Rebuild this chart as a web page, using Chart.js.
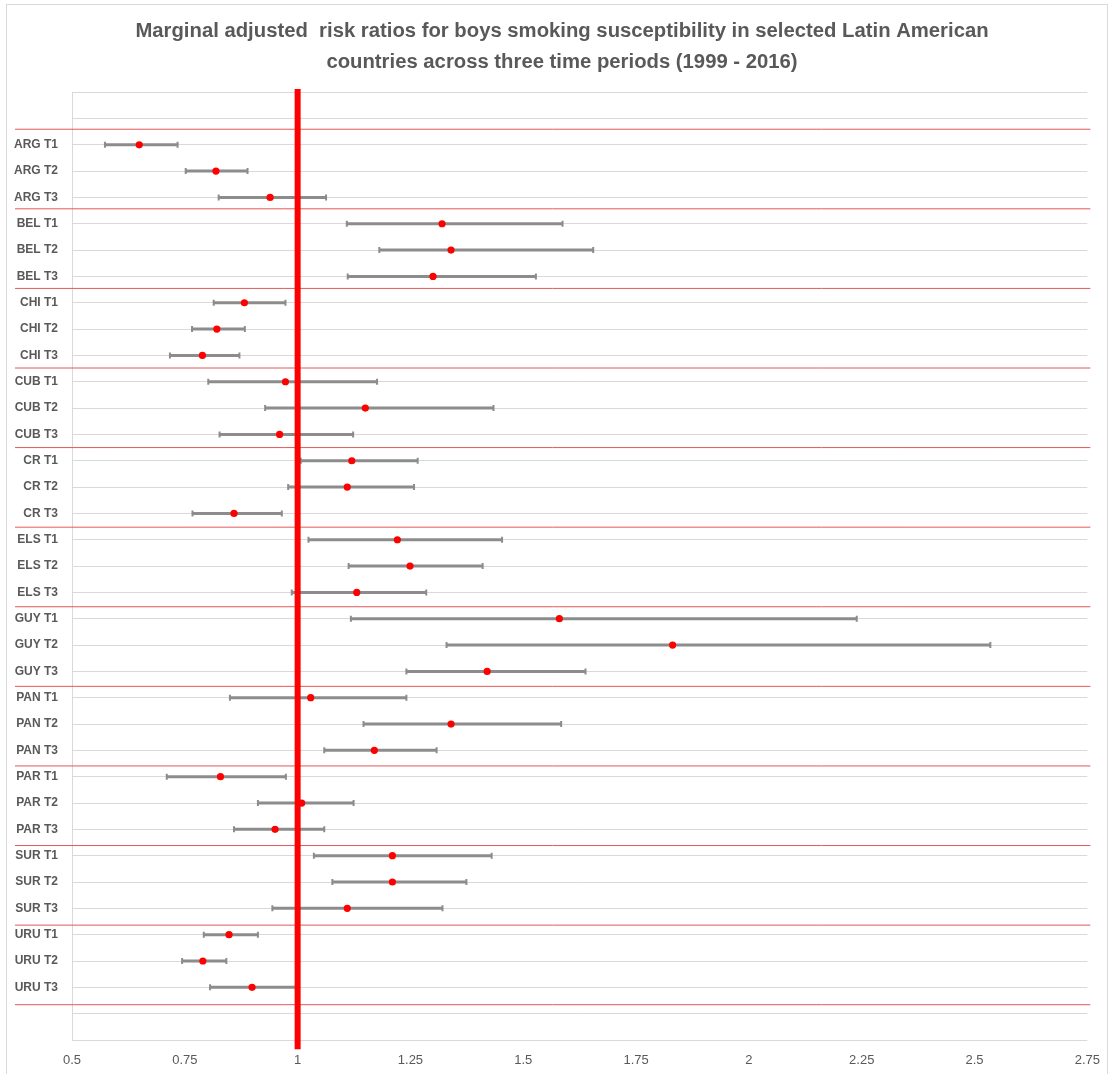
<!DOCTYPE html>
<html><head><meta charset="utf-8">
<script src="https://cdn.jsdelivr.net/npm/chart.js@4.4.1/dist/chart.umd.min.js"></script>
<style>
html,body{margin:0;padding:0;background:#fff;}
#wrap{position:relative;width:1113px;height:1074px;overflow:hidden;}
#frame{position:absolute;left:6px;top:4px;width:1102px;height:1100px;border:1px solid #d9d9d9;box-sizing:border-box;pointer-events:none;}
canvas{position:absolute;left:0;top:0;}
</style></head><body>
<div id="wrap"><canvas id="c" width="1113" height="1074"></canvas><div id="frame"></div></div>
<script>
// ---------- data ----------
const rowLabels = ["ARG T1","ARG T2","ARG T3","BEL T1","BEL T2","BEL T3","CHI T1","CHI T2","CHI T3",
  "CUB T1","CUB T2","CUB T3","CR T1","CR T2","CR T3","ELS T1","ELS T2","ELS T3",
  "GUY T1","GUY T2","GUY T3","PAN T1","PAN T2","PAN T3","PAR T1","PAR T2","PAR T3",
  "SUR T1","SUR T2","SUR T3","URU T1","URU T2","URU T3"];
const estimates = [0.649,0.819,0.939, 1.320,1.340,1.300, 0.882,0.821,0.789,
  0.973,1.150,0.960, 1.120,1.110,0.859, 1.221,1.249,1.131,
  1.580,1.831,1.420, 1.029,1.340,1.170, 0.829,1.009,0.950,
  1.210,1.210,1.110, 0.848,0.790,0.899];
const lowerCI = [0.573,0.752,0.825, 1.109,1.181,1.111, 0.814,0.766,0.717,
  0.802,0.928,0.827, 1.007,0.979,0.767, 1.024,1.113,0.987,
  1.118,1.330,1.241, 0.850,1.146,1.059, 0.710,0.912,0.859,
  1.036,1.077,0.944, 0.792,0.744,0.806];
const upperCI = [0.734,0.889,1.063, 1.587,1.655,1.528, 0.973,0.883,0.871,
  1.176,1.434,1.123, 1.266,1.258,0.965, 1.453,1.410,1.285,
  2.239,2.535,1.638, 1.241,1.584,1.308, 0.974,1.124,1.059,
  1.430,1.374,1.321, 0.912,0.842,0.996];
const xTickValues = [0.5,0.75,1,1.25,1.5,1.75,2,2.25,2.5,2.75];
const groupBoundaries = [0.5,3.5,6.5,9.5,12.5,15.5,18.5,21.5,24.5,27.5,30.5,33.5];
const referenceValue = 1;
const firstRow = 2;   // two empty rows above the first category
const lastRow = 36;
const titleLines = ["Marginal adjusted  risk ratios for boys smoking susceptibility in selected Latin American",
  "countries across three time periods (1999 - 2016)"];

// ---------- chart ----------
const FONT = '"Liberation Sans", Arial, sans-serif';
const GREY_TXT = '#595959';
const ERR_COL = '#8c8c8c';

const datasets = [];
rowLabels.forEach((lab, i) => {
  datasets.push({
    type: 'scatter', showLine: true, label: lab + ' CI',
    data: [{x: lowerCI[i], y: i + firstRow}, {x: upperCI[i], y: i + firstRow}],
    borderColor: ERR_COL, borderWidth: 3, borderCapStyle: 'butt',
    pointStyle: 'line', pointRotation: 90, pointRadius: 3, pointBorderWidth: 2,
    pointBorderColor: ERR_COL, pointBackgroundColor: ERR_COL, pointHoverRadius: 3,
    order: 3
  });
});
datasets.push({
  type: 'scatter', showLine: true, label: 'reference',
  data: [{x: referenceValue, y: -0.12}, {x: referenceValue, y: lastRow + 0.35}],
  borderColor: '#ff0000', borderWidth: 6, borderCapStyle: 'butt', pointRadius: 0, clip: false, order: 2
});
datasets.push({
  type: 'scatter', label: 'estimate',
  data: estimates.map((v, i) => ({x: v, y: i + firstRow})),
  pointRadius: 3.6, pointBackgroundColor: '#ff0000', pointBorderWidth: 0, pointBorderColor: '#ff0000',
  order: 1
});

const separatorPlugin = {
  id: 'separators',
  afterLayout(chart) {
    // centre the title over the same point as the original
    if (chart.titleBlock) { chart.titleBlock.left += 12; chart.titleBlock.right += 12; }
  },
  beforeDatasetsDraw(chart) {
    const {ctx, chartArea} = chart;
    const s = chart.scales.y2;
    ctx.save();
    ctx.strokeStyle = 'rgb(226,88,88)';
    ctx.lineWidth = 1;
    groupBoundaries.forEach(b => {
      const py = s.getPixelForValue(b);
      ctx.beginPath();
      ctx.moveTo(chartArea.left - 57, py);
      ctx.lineTo(chartArea.right + 3, py);
      ctx.stroke();
    });
    ctx.restore();
  }
};

new Chart(document.getElementById('c'), {
  type: 'scatter',
  data: {datasets},
  plugins: [separatorPlugin],
  options: {
    responsive: false, animation: false, devicePixelRatio: 1,
    layout: {padding: {left: 7, right: 20, top: 0, bottom: 0}},
    plugins: {
      legend: {display: false}, tooltip: {enabled: false},
      title: {display: true, text: titleLines, color: GREY_TXT,
        font: {family: FONT, size: 20.3, weight: 'bold', lineHeight: 1.53},
        padding: {top: 16, bottom: 14}}
    },
    scales: {
      x: {type: 'linear', min: 0.5, max: 2.75,
        afterBuildTicks: sc => { sc.ticks = xTickValues.map(v => ({value: v})); },
        afterFit: sc => { sc.height = 34; },
        grid: {display: false, drawTicks: false},
        border: {display: false},
        ticks: {color: GREY_TXT, font: {family: FONT, size: 13}, padding: 13,
          callback: v => String(v), maxRotation: 0, autoSkip: false}
      },
      y: {type: 'linear', min: 0, max: lastRow, reverse: true,
        afterFit: sc => { sc.width = 65; },
        grid: {color: '#d9d9d9', lineWidth: 1, drawTicks: false},
        border: {display: true, color: '#d9d9d9'},
        ticks: {stepSize: 1, autoSkip: false, color: GREY_TXT, padding: 14,
          font: {family: FONT, size: 12, weight: 'bold'},
          callback: v => { const k = v - firstRow; return (k >= 0 && k < rowLabels.length) ? rowLabels[k] : ''; }}
      },
      y2: {type: 'linear', display: false, reverse: true, min: -0.899, max: 34.83}
    }
  }
});
</script>
</body></html>
